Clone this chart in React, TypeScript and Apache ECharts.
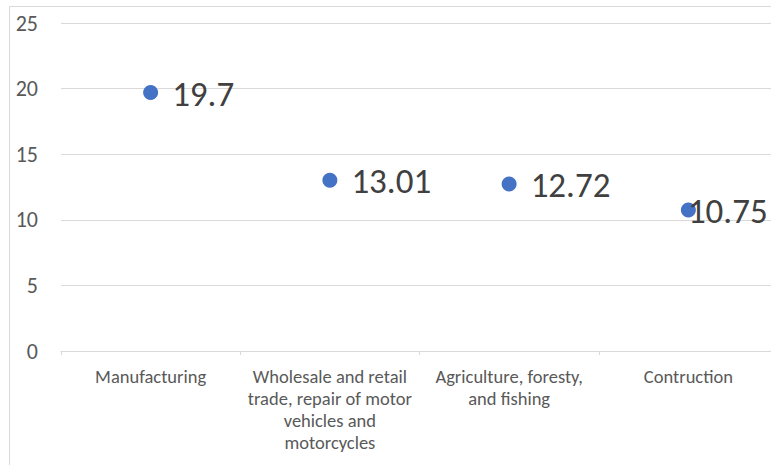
import React, { useEffect, useRef } from "react";
import * as echarts from "echarts";

const categories = [
  "Manufacturing",
  "Wholesale and retail\ntrade, repair of motor\nvehicles and\nmotorcycles",
  "Agriculture, foresty,\nand fishing",
  "Contruction",
];
const values = [19.7, 13.01, 12.72, 10.75];
const yTicks = [0, 5, 10, 15, 20, 25];

const FONT = 'Calibri, Carlito, "Open Sans", "Liberation Sans", sans-serif';

export default function App() {
  const ref = useRef<HTMLDivElement>(null);
  useEffect(() => {
    document.body.style.margin = "0";
    const chart = echarts.init(ref.current!, null, { renderer: "svg" });
    chart.setOption({
      animation: false,
      backgroundColor: "#ffffff",
      graphic: [
        {
          type: "rect",
          shape: { x: 9.5, y: 6.5, width: 800, height: 500 },
          style: { fill: "none", stroke: "#d9d9d9", lineWidth: 1 },
          silent: true,
        },
      ],
      grid: { left: 61, top: 23, width: 717, height: 328, containLabel: false },
      xAxis: {
        type: "category",
        data: categories,
        boundaryGap: true,
        axisLine: { show: true, lineStyle: { color: "#d9d9d9", width: 1 } },
        axisTick: { show: true, length: 4, lineStyle: { color: "#d9d9d9" } },
        axisLabel: {
          interval: 0,
          color: "#595959",
          fontFamily: FONT,
          fontSize: 18.5,
          lineHeight: 22,
          margin: 14,
          align: "center",
          verticalAlign: "top",
        },
      },
      yAxis: {
        type: "value",
        min: yTicks[0],
        max: yTicks[yTicks.length - 1],
        interval: 5,
        axisLine: { show: false },
        axisTick: { show: false },
        splitLine: { lineStyle: { color: "#d9d9d9", width: 1 } },
        axisLabel: {
          color: "#595959",
          fontFamily: FONT,
          fontSize: 22,
          margin: 23,
        },
      },
      series: [
        {
          type: "scatter",
          data: values.map((v, i) =>
            i === values.length - 1
              ? { value: v, label: { offset: [-22, 1] } }
              : { value: v }
          ),
          symbol: "circle",
          symbolSize: 15,
          itemStyle: { color: "#4472c4", opacity: 1 },
          label: {
            show: true,
            position: "right",
            distance: 14,
            offset: [0, 1],
            color: "#404040",
            fontFamily: FONT,
            fontSize: 35,
          },
        },
      ],
    });
    return () => chart.dispose();
  }, []);
  return (
    <div style={{ width: 771, height: 465, overflow: "hidden", position: "relative" }}>
      <div ref={ref} style={{ width: 800, height: 465 }} />
    </div>
  );
}
